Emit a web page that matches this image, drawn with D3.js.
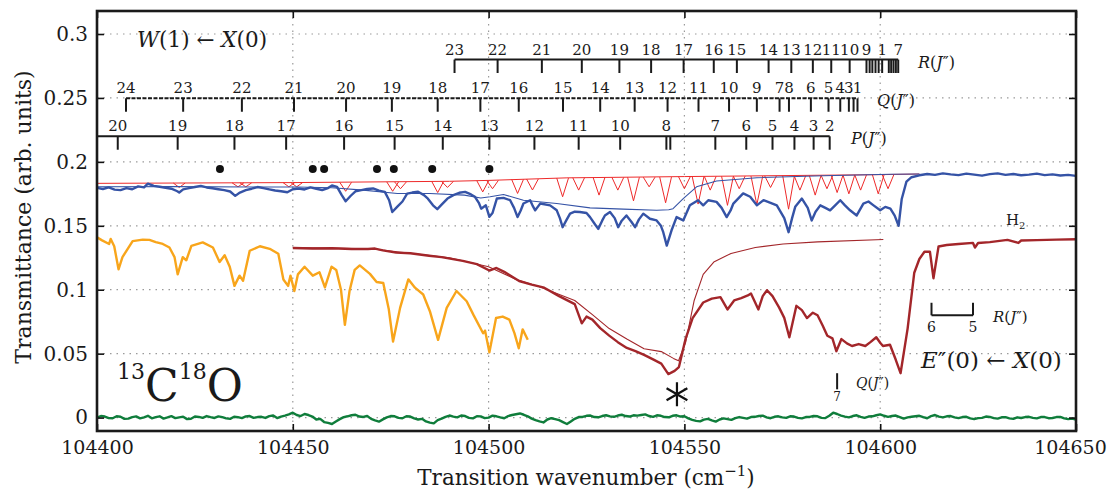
<!DOCTYPE html>
<html>
<head>
<meta charset="utf-8">
<script src="https://cdn.jsdelivr.net/npm/d3@7"></script>
<style>
body { margin: 0; background: #fff; }
svg text { font-family: "DejaVu Serif", "Liberation Serif", serif; fill: #1a1a1a; }
</style>
</head>
<body>
<svg id="chart" width="1112" height="491"></svg>
<script>
// axis ticks
var xTicks = [104400, 104450, 104500, 104550, 104600, 104650];
var yTicks = [0, 0.05, 0.1, 0.15, 0.2, 0.25, 0.3];

// W(1) <- X(0) measured spectrum (blue) and its fit
var blueExp = [[104400,0.1797],[104401.5,0.1788],[104403,0.1800],[104404.5,0.1783],[104406,0.1779],[104407.5,0.1795],[104409,0.1786],[104410.5,0.1808],[104412,0.1800],[104413,0.1830],[104414.5,0.1812],[104416,0.1805],[104417.5,0.1798],[104419,0.1790],[104420.5,0.1770],[104421,0.1760],[104422,0.1785],[104423.5,0.1795],[104425,0.1803],[104426.5,0.1812],[104428,0.1800],[104429.5,0.1794],[104431,0.1786],[104432.5,0.1779],[104434,0.1768],[104435.3,0.1734],[104436.5,0.1760],[104438,0.1779],[104439.5,0.1790],[104441,0.1803],[104442.5,0.1795],[104444,0.1785],[104445.5,0.1776],[104447,0.1770],[104448.6,0.1762],[104450,0.1786],[104451.5,0.1792],[104453,0.1784],[104454.5,0.1800],[104456,0.1790],[104457.5,0.1780],[104459,0.1795],[104460,0.1815],[104461.3,0.1805],[104462.5,0.1740],[104463.5,0.1692],[104464.8,0.1735],[104466,0.1770],[104467.5,0.1779],[104469,0.1788],[104470.5,0.1792],[104472,0.1775],[104473.5,0.1765],[104474.6,0.1700],[104475.4,0.1608],[104476.7,0.1650],[104478,0.1690],[104479.2,0.1752],[104480.5,0.1760],[104482,0.1766],[104483.5,0.1740],[104484.5,0.1712],[104485.8,0.1660],[104486.9,0.1630],[104488,0.1665],[104489.5,0.1713],[104491,0.1740],[104492.5,0.1758],[104494,0.1765],[104495.5,0.1745],[104496.5,0.1727],[104497.5,0.1680],[104498.1,0.1634],[104499.3,0.1660],[104500.2,0.1570],[104501,0.1600],[104502.1,0.1713],[104503.8,0.1718],[104505.5,0.1700],[104506.5,0.1640],[104507.4,0.1568],[104508.2,0.1620],[104508.9,0.1674],[104510.6,0.1700],[104511.2,0.1660],[104511.9,0.1621],[104512.6,0.1650],[104513.2,0.1674],[104515.7,0.1660],[104517.4,0.1621],[104518.2,0.1560],[104518.9,0.1489],[104519.8,0.1540],[104520.8,0.1595],[104522,0.1610],[104523.3,0.1608],[104525,0.1600],[104525.9,0.1568],[104527.2,0.1510],[104528,0.1476],[104529,0.1540],[104529.7,0.1581],[104531,0.1608],[104532.2,0.1560],[104533.1,0.1489],[104534,0.1540],[104535.2,0.1581],[104536.5,0.1530],[104537.4,0.1489],[104538.4,0.1550],[104539.5,0.1595],[104541.2,0.1555],[104542.9,0.1542],[104544,0.1500],[104544.6,0.1450],[104545.5,0.1345],[104546.7,0.1463],[104548,0.1568],[104549.7,0.1542],[104551.4,0.1660],[104553.5,0.1700],[104554.8,0.1660],[104556.1,0.1700],[104558.2,0.1687],[104559.5,0.1640],[104560.8,0.1568],[104561.8,0.1620],[104562.5,0.1674],[104565,0.1753],[104566.8,0.1727],[104568.5,0.1660],[104570.2,0.1700],[104572,0.1680],[104573.6,0.1660],[104575.5,0.1560],[104576.6,0.1450],[104577.5,0.1560],[104578.3,0.1648],[104580,0.1713],[104581.5,0.1640],[104582.5,0.1542],[104583.5,0.1610],[104584.7,0.1660],[104586,0.1640],[104587.2,0.1621],[104588.5,0.1660],[104589.8,0.1700],[104591,0.1660],[104592.3,0.1621],[104594,0.1581],[104595.7,0.1674],[104597,0.1690],[104598.3,0.1660],[104600,0.1621],[104601.3,0.1648],[104602.6,0.1634],[104603.7,0.1580],[104604.7,0.1500],[104605.5,0.1710],[104606.7,0.1845],[104608,0.1880],[104610,0.1895],[104612,0.1905],[104614,0.1898],[104616,0.1910],[104618,0.1902],[104620,0.1896],[104622,0.1908],[104624,0.1900],[104626,0.1892],[104628,0.1904],[104630,0.1910],[104632,0.1898],[104634,0.1905],[104636,0.1895],[104638,0.1900],[104640,0.1908],[104642,0.1896],[104644,0.1902],[104646,0.1893],[104648,0.1898],[104650,0.1890]];
var blueFit = [[104400,0.1805],[104420,0.1806],[104440,0.1804],[104451,0.1803],[104460,0.1797],[104468,0.1779],[104476.7,0.1753],[104485,0.1753],[104493.8,0.1740],[104498,0.1718],[104500.4,0.1727],[104503.8,0.1745],[104508.9,0.1700],[104517.4,0.1674],[104525.9,0.1640],[104534.4,0.1630],[104542.9,0.1621],[104546,0.1625],[104547.1,0.1634],[104549.7,0.1713],[104553.1,0.1805],[104558.2,0.1850],[104568.5,0.1876],[104585.5,0.1892],[104602.6,0.1903],[104610,0.1905]];

// simulated line profiles (red): baseline and dips [centre, top, bottom]
var redBase = [[104400,0.1832],[104450,0.1838],[104490,0.1848],[104500,0.1855],[104520,0.1875],[104550,0.1885],[104600,0.1900],[104610,0.1905]];
var redDips = [[104421,0.1834,0.1800],[104436,0.1836,0.1805],[104438,0.1836,0.1805],[104449,0.1838,0.1805],[104451,0.1838,0.1805],[104463.5,0.1840,0.1770],[104475.5,0.1843,0.1770],[104477.5,0.1843,0.1790],[104487,0.1846,0.1760],[104489.5,0.1847,0.1800],[104498.5,0.1852,0.1765],[104501,0.1855,0.1790],[104507.4,0.1862,0.1753],[104511.2,0.1866,0.1780],[104518.9,0.1873,0.1727],[104523,0.1876,0.1779],[104528.2,0.1877,0.1740],[104533,0.1878,0.1779],[104537,0.1879,0.1695],[104541,0.1880,0.1805],[104545.2,0.1881,0.1680],[104550,0.1884,0.1790],[104553.5,0.1885,0.1670],[104556.6,0.1886,0.1779],[104561,0.1887,0.1660],[104564,0.1888,0.1790],[104568.5,0.1889,0.1665],[104572,0.1890,0.1800],[104576.6,0.1892,0.1630],[104579.5,0.1893,0.1779],[104583.4,0.1894,0.1740],[104586.4,0.1895,0.1790],[104589,0.1896,0.1760],[104592,0.1897,0.1750],[104595,0.1898,0.1779],[104599.5,0.1900,0.1750],[104602,0.1901,0.1790]];

// orange trace
var orange = [[104400,0.1410],[104401.3,0.1386],[104403.1,0.1358],[104403.5,0.1397],[104404.4,0.1340],[104405.5,0.1160],[104406.5,0.1255],[104409.1,0.1380],[104411.7,0.1392],[104413.4,0.1390],[104415,0.1372],[104416.8,0.1358],[104418.5,0.1330],[104419.8,0.1255],[104420.6,0.1120],[104421.9,0.1255],[104422.8,0.1230],[104424.1,0.1343],[104427,0.1370],[104429.6,0.1330],[104431.3,0.1217],[104432.6,0.1270],[104433.9,0.1180],[104435.1,0.1030],[104436.4,0.1110],[104437.3,0.1070],[104439,0.1305],[104441.6,0.1340],[104444.1,0.1320],[104446.3,0.1281],[104447.6,0.1080],[104448.8,0.1030],[104449.4,0.1110],[104450.4,0.0990],[104451.3,0.1120],[104453,0.1180],[104455.1,0.1110],[104456.8,0.1137],[104458.2,0.1018],[104459.9,0.1180],[104461.1,0.1155],[104462.3,0.1000],[104463.3,0.0726],[104464.5,0.0992],[104465.8,0.1155],[104467.1,0.1190],[104469.7,0.1124],[104471.4,0.1060],[104473.1,0.1053],[104474.5,0.0850],[104475.6,0.0595],[104477.4,0.0858],[104479.5,0.1081],[104481.2,0.1016],[104483.3,0.0963],[104485,0.0832],[104487.1,0.0608],[104489.3,0.0858],[104491.8,0.0990],[104494.4,0.0910],[104496.1,0.0805],[104498.6,0.0660],[104499.1,0.0680],[104500.2,0.0510],[104501.9,0.0779],[104503.6,0.0790],[104505.3,0.0766],[104506.6,0.0660],[104507.7,0.0542],[104508.7,0.0690],[104510,0.0608]];

// E''(0) <- X(0) measured spectrum (dark red) and its model
var darkRed = [[104450,0.1326],[104455,0.1322],[104460,0.1324],[104465,0.1318],[104469.2,0.1318],[104471,0.1322],[104473,0.1308],[104476.4,0.1290],[104480,0.1285],[104484.8,0.1266],[104488,0.1255],[104493.4,0.1226],[104497,0.1200],[104500.2,0.1150],[104502,0.1170],[104504,0.1140],[104507.8,0.1068],[104511,0.1040],[104514.2,0.1016],[104518,0.0950],[104522,0.0887],[104523.8,0.0737],[104525,0.0790],[104526.5,0.0766],[104528.5,0.0700],[104530.8,0.0641],[104533,0.0590],[104535.3,0.0545],[104537.5,0.0520],[104539.7,0.0490],[104542,0.0455],[104544.1,0.0422],[104545.9,0.0340],[104547.5,0.0365],[104548.6,0.0395],[104550.3,0.0616],[104552.1,0.0778],[104554.8,0.0900],[104557,0.0930],[104559.2,0.0942],[104561,0.0846],[104562.7,0.0916],[104564.5,0.0935],[104566.2,0.0955],[104567,0.0970],[104568.9,0.0846],[104570,0.0950],[104571.1,0.0996],[104572.5,0.0950],[104574.2,0.0860],[104575.5,0.0780],[104576.8,0.0628],[104578.6,0.0874],[104580,0.0840],[104581.3,0.0778],[104582.8,0.0820],[104584,0.0800],[104585.3,0.0720],[104586.5,0.0640],[104587.8,0.0620],[104588.8,0.0519],[104590.1,0.0614],[104591.5,0.0580],[104592.8,0.0560],[104594.5,0.0575],[104596.2,0.0560],[104597.5,0.0590],[104599,0.0628],[104600,0.0585],[104600.7,0.0560],[104602.5,0.0570],[104604,0.0450],[104605.2,0.0347],[104607,0.0696],[104608.7,0.1133],[104610,0.1240],[104611.3,0.1297],[104612.7,0.1297],[104613.6,0.1090],[104614.9,0.1338],[104617,0.1350],[104620,0.1358],[104623.7,0.1366],[104624.2,0.1330],[104625,0.1365],[104628,0.1372],[104632.5,0.1390],[104635.3,0.1366],[104636,0.1385],[104640,0.1388],[104645,0.1392],[104650,0.1395]];
var darkRedFit = [[104450,0.1330],[104470,0.1320],[104490,0.1250],[104500,0.1180],[104507,0.1080],[104513,0.1024],[104522,0.0916],[104526.5,0.0805],[104530.8,0.0696],[104535.3,0.0614],[104539.7,0.0538],[104544.1,0.0516],[104547.2,0.0463],[104548.5,0.0444],[104550.3,0.0587],[104552.5,0.0916],[104554.8,0.1120],[104557.5,0.1216],[104561.9,0.1284],[104568.1,0.1330],[104575.2,0.1358],[104584,0.1374],[104600.8,0.1393]];

// zero line / background (green)
var green = [[104400,0.0000],[104401,0.0012],[104402,0.0008],[104403,-0.0004],[104404,-0.0005],[104405,0.0010],[104406,0.0006],[104407,-0.0010],[104408,-0.0008],[104409,0.0004],[104410,0.0009],[104411,-0.0006],[104412,0.0002],[104413,0.0014],[104414,-0.0006],[104415,0.0003],[104416,0.0010],[104417,-0.0008],[104418,0.0001],[104419,0.0011],[104420,-0.0004],[104421,0.0002],[104422,0.0007],[104423,-0.0012],[104424,-0.0009],[104425,0.0008],[104426,0.0005],[104427,-0.0002],[104428,0.0012],[104429,0.0004],[104430,-0.0003],[104431,0.0009],[104432,0.0004],[104433,-0.0006],[104434,-0.0010],[104435,0.0006],[104436,0.0003],[104437,-0.0004],[104438,0.0009],[104439,0.0012],[104440,-0.0002],[104441,0.0004],[104442,0.0006],[104443,-0.0003],[104444,0.0011],[104445,0.0016],[104446,-0.0004],[104447,0.0008],[104448,0.0015],[104449,0.0025],[104450,0.0038],[104451,0.0020],[104452,0.0012],[104453,0.0028],[104454,0.0020],[104455,0.0008],[104456,-0.0015],[104457,-0.0010],[104458,-0.0035],[104459,-0.0042],[104460,-0.0050],[104461,-0.0030],[104462,-0.0012],[104463,0.0004],[104464,0.0010],[104465,0.0018],[104466,0.0022],[104467,0.0008],[104468,0.0005],[104469,0.0012],[104470,-0.0010],[104471,-0.0022],[104472,-0.0032],[104473,-0.0014],[104474,0.0002],[104475,0.0012],[104476,0.0010],[104477,-0.0002],[104478,-0.0005],[104479,0.0010],[104480,0.0008],[104481,-0.0006],[104482,-0.0015],[104483,-0.0010],[104484,-0.0030],[104485,-0.0040],[104486,-0.0045],[104487,-0.0020],[104488,-0.0008],[104489,0.0006],[104490,0.0016],[104491,0.0008],[104492,0.0002],[104493,0.0016],[104494,0.0012],[104495,-0.0002],[104496,-0.0006],[104497,0.0010],[104498,0.0009],[104499,-0.0004],[104500,0.0000],[104501,0.0015],[104502,0.0010],[104503,0.0002],[104504,-0.0005],[104505,0.0012],[104506,0.0020],[104507,0.0026],[104508,0.0032],[104509,0.0022],[104510,0.0010],[104511,-0.0008],[104512,-0.0020],[104513,-0.0030],[104514,-0.0038],[104515,-0.0015],[104516,-0.0005],[104517,-0.0012],[104518,-0.0020],[104519,-0.0035],[104520,-0.0050],[104521,-0.0030],[104522,-0.0010],[104523,0.0004],[104524,0.0005],[104525,0.0014],[104526,0.0016],[104527,0.0004],[104528,0.0002],[104529,0.0012],[104530,0.0018],[104531,0.0009],[104532,0.0006],[104533,0.0016],[104534,0.0022],[104535,0.0012],[104536,0.0008],[104537,0.0018],[104538,0.0015],[104539,0.0020],[104540,0.0025],[104541,0.0012],[104542,0.0006],[104543,0.0018],[104544,0.0014],[104545,0.0004],[104546,0.0002],[104547,0.0014],[104548,0.0018],[104549,0.0008],[104550,0.0010],[104551,-0.0006],[104552,-0.0018],[104553,-0.0026],[104554,-0.0030],[104555,-0.0016],[104556,-0.0010],[104557,-0.0022],[104558,-0.0032],[104559,-0.0015],[104560,-0.0006],[104561,-0.0012],[104562,-0.0018],[104563,-0.0004],[104564,0.0004],[104565,-0.0002],[104566,-0.0008],[104567,0.0004],[104568,0.0006],[104569,0.0012],[104570,0.0015],[104571,0.0002],[104572,-0.0005],[104573,0.0006],[104574,0.0010],[104575,0.0002],[104576,-0.0002],[104577,0.0010],[104578,0.0008],[104579,-0.0002],[104580,-0.0006],[104581,0.0004],[104582,0.0005],[104583,0.0012],[104584,0.0010],[104585,-0.0002],[104586,-0.0004],[104587,0.0014],[104588,0.0038],[104589,0.0028],[104590,0.0015],[104591,0.0008],[104592,0.0002],[104593,0.0012],[104594,0.0018],[104595,0.0006],[104596,-0.0002],[104597,0.0008],[104598,0.0010],[104599,0.0018],[104600,0.0025],[104601,0.0014],[104602,0.0006],[104603,0.0012],[104604,0.0016],[104605,0.0004],[104606,-0.0008],[104607,0.0002],[104608,0.0006],[104609,0.0010],[104610,0.0014],[104611,0.0003],[104612,-0.0005],[104613,0.0012],[104614,0.0020],[104615,0.0008],[104616,0.0002],[104617,0.0010],[104618,0.0012],[104619,0.0002],[104620,-0.0004],[104621,0.0004],[104622,0.0006],[104623,-0.0006],[104624,-0.0012],[104625,-0.0004],[104626,-0.0002],[104627,0.0008],[104628,0.0005],[104629,-0.0004],[104630,-0.0008],[104631,0.0002],[104632,0.0003],[104633,-0.0006],[104634,-0.0010],[104635,0.0002],[104636,-0.0003],[104637,0.0004],[104638,0.0006],[104639,-0.0002],[104640,-0.0006],[104641,0.0004],[104642,0.0004],[104643,-0.0005],[104644,-0.0003],[104645,0.0004],[104646,0.0005],[104647,-0.0006],[104648,-0.0012],[104649,-0.0008],[104650,-0.0015]];

// line assignments W(1) <- X(0)
var rWn = [104491.3,104502.3,104513.6,104523.8,104533.4,104541.5,104549.8,104557.5,104563.4,104571.5,104577.3,104582.8,104587.5,104592.2,104596.5,104597.3,104598.0,104598.8,104599.6,104600.5,104602.2,104602.8,104603.4,104604.0,104604.6];
var rJ = ["23","22","21","20","19","18","17","16","15","14","13","12","11","10","9","","","","","1","","","","","7"];
var qWn = [104407.4,104422,104437,104450.3,104463.6,104475.3,104487,104497.9,104507.7,104519,104528.5,104537.3,104545.7,104553.6,104561.4,104568.5,104574.3,104576.7,104582.3,104586.8,104589.8,104592,104593.2,104594.2];
var qJ = ["24","23","22","21","20","19","18","17","16","15","14","13","12","11","10","9","7","8","6","5","4","3","","1"];
var pWn = [104405.3,104420.6,104435.1,104448.3,104463.1,104476,104488.3,104500.2,104511.7,104523,104533.6,104545.4,104546.4,104557.9,104565.8,104572.5,104578.1,104583,104587.1];
var pJ = ["20","19","18","17","16","15","14","13","12","11","10","8","","7","6","5","4","3","2"];
var dotWn = [104431.4,104455.1,104458,104471.5,104475.8,104485.6,104500.2];

// line assignments E''(0) <- X(0)
var eRWn = [104613.1, 104623.7];
var eRJ = ["6", "5"];
var eQWn = [104589];
var eQJ = ["7"];
var starWn = 104548.1;

var serif = "'DejaVu Serif','Liberation Serif',serif";
var svg = d3.select("#chart").attr("font-family", serif);
var x = d3.scaleLinear().domain([104400, 104650]).range([97, 1076]);
var y = d3.scaleLinear().domain([-0.0105, 0.318]).range([431, 11]);
var x0 = x.range()[0], x1 = x.range()[1], y0 = y.range()[0], y1 = y.range()[1];

svg.append("clipPath").attr("id", "clip")
  .append("rect").attr("x", x0).attr("y", y1).attr("width", x1 - x0).attr("height", y0 - y1);

// dotted grid
var grid = svg.append("g").attr("stroke", "#9a9a9a").attr("stroke-width", 1.2).attr("stroke-dasharray", "1.5,5");
grid.selectAll(".gx").data(xTicks.slice(1, -1)).enter().append("line")
  .attr("x1", d => x(d)).attr("x2", d => x(d)).attr("y1", y1).attr("y2", y0);
grid.selectAll(".gy").data(yTicks).enter().append("line")
  .attr("x1", x0).attr("x2", x1).attr("y1", d => y(d)).attr("y2", d => y(d));

var plot = svg.append("g").attr("clip-path", "url(#clip)");
var line = d3.line().x(d => x(d[0])).y(d => y(d[1]));

function trace(data, color, width) {
  plot.append("path").datum(data)
    .attr("d", line)
    .attr("fill", "none")
    .attr("stroke", color)
    .attr("stroke-width", width)
    .attr("stroke-linejoin", "round");
}

trace(green, "#0f7d3b", 2.4);
trace(orange, "#f8a51b", 2.4);
trace(darkRedFit, "#a3262a", 1.1);
trace(darkRed, "#a3262a", 2.4);

// red simulated profiles
trace(redBase, "#ee2a2a", 1);
plot.selectAll(".dip").data(redDips).enter().append("path")
  .attr("d", d => line([[d[0] - 1.5, d[1]], [d[0], d[2]], [d[0] + 1.5, d[1]]]))
  .attr("fill", "none").attr("stroke", "#ee2a2a").attr("stroke-width", 1);

trace(blueExp, "#3553a6", 2.4);
trace(blueFit, "#3553a6", 1.1);

// assignment ladders
var tickLen = 0.0105;
function ladder(wn, labels, level, start, end, dashed) {
  var g = svg.append("g").attr("stroke", "#1a1a1a").attr("stroke-width", 2);
  g.append("line")
    .attr("x1", x(start)).attr("x2", x(end))
    .attr("y1", y(level)).attr("y2", y(level))
    .attr("stroke-dasharray", dashed ? "4,1.5" : null);
  g.selectAll(".t").data(wn).enter().append("line")
    .attr("x1", d => x(d)).attr("x2", d => x(d))
    .attr("y1", y(level)).attr("y2", y(level - tickLen));
  svg.append("g").selectAll("text").data(wn).enter().append("text")
    .attr("x", d => x(d)).attr("y", y(level) - 5)
    .attr("text-anchor", "middle").attr("font-size", 15)
    .text((d, i) => labels[i]);
}
ladder(rWn, rJ, 0.280, rWn[0], rWn[rWn.length - 1], false);
ladder(qWn, qJ, 0.2497, qWn[0], qWn[qWn.length - 1], true);
ladder(pWn, pJ, 0.220, 104400, pWn[pWn.length - 1], false);

function branchLabel(letter, px, py, size) {
  var t = svg.append("text").attr("x", px).attr("y", py).attr("font-size", size);
  t.append("tspan").attr("font-style", "italic").text(letter);
  t.append("tspan").text("(");
  t.append("tspan").attr("font-style", "italic").text("J");
  t.append("tspan").text("\u2033)");
}
branchLabel("R", 918, 68, 16);
branchLabel("Q", 877, 106, 16);
branchLabel("P", 851, 144, 16);

svg.append("g").selectAll("circle").data(dotWn).enter().append("circle")
  .attr("cx", d => x(d)).attr("cy", y(0.1944)).attr("r", 4).attr("fill", "#111");

// E''(0) ladders
var eg = svg.append("g").attr("stroke", "#1a1a1a").attr("stroke-width", 2);
eg.append("line").attr("x1", x(eRWn[0])).attr("x2", x(eRWn[1])).attr("y1", y(0.080)).attr("y2", y(0.080));
eg.selectAll(".t").data(eRWn).enter().append("line")
  .attr("x1", d => x(d)).attr("x2", d => x(d)).attr("y1", y(0.080)).attr("y2", y(0.0898));
svg.append("g").selectAll("text").data(eRWn).enter().append("text")
  .attr("x", d => x(d)).attr("y", y(0.080) + 17).attr("text-anchor", "middle").attr("font-size", 14)
  .text((d, i) => eRJ[i]);
branchLabel("R", 993, 322, 15);

eg.selectAll(".q").data(eQWn).enter().append("line")
  .attr("x1", d => x(d)).attr("x2", d => x(d)).attr("y1", y(0.0347)).attr("y2", y(0.0221));
svg.append("g").selectAll("text").data(eQWn).enter().append("text")
  .attr("x", d => x(d)).attr("y", 401).attr("text-anchor", "middle").attr("font-size", 12)
  .text((d, i) => eQJ[i]);
branchLabel("Q", 856, 388, 14);

// band labels
var w1 = svg.append("text").attr("x", 137).attr("y", 47).attr("font-size", 21.5);
w1.append("tspan").attr("font-style", "italic").text("W");
w1.append("tspan").text("(1) \u2190 ");
w1.append("tspan").attr("font-style", "italic").text("X");
w1.append("tspan").text("(0)");

var e0 = svg.append("text").attr("x", 921).attr("y", 368).attr("font-size", 23);
e0.append("tspan").attr("font-style", "italic").text("E");
e0.append("tspan").text("\u2033(0) \u2190 ");
e0.append("tspan").attr("font-style", "italic").text("X");
e0.append("tspan").text("(0)");

var h2 = svg.append("text").attr("x", 1006).attr("y", 225).attr("font-size", 15);
h2.append("tspan").text("H");
h2.append("tspan").attr("font-size", 10).attr("dy", 4).text("2");

var iso = svg.append("text").attr("x", 117).attr("y", 401).attr("font-size", 44);
iso.append("tspan").attr("font-size", 22).attr("dy", -22).text("13");
iso.append("tspan").attr("dy", 22).text("C");
iso.append("tspan").attr("font-size", 22).attr("dy", -22).text("18");
iso.append("tspan").attr("dy", 22).text("O");

svg.append("path")
  .attr("d", d3.symbol(d3.symbolAsterisk, 407)())
  .attr("transform", "translate(" + x(starWn) + "," + y(0.0182) + ")")
  .attr("fill", "none").attr("stroke", "#111").attr("stroke-width", 2.2);

// axes with inward ticks
function styleAxis(g) {
  g.attr("font-family", serif);
  g.select(".domain").remove();
  g.selectAll(".tick line").attr("stroke", "#111").attr("stroke-width", 1.6);
  g.selectAll("text").attr("fill", "#1a1a1a");
}
var xAxisG = svg.append("g").attr("transform", "translate(0," + y0 + ")")
  .call(d3.axisBottom(x).tickValues(xTicks).tickFormat(d3.format("d")).tickSize(-7).tickPadding(10))
  .call(styleAxis).attr("font-size", 19);
xAxisG.selectAll(".tick text").filter(d => d === xTicks[xTicks.length - 1]).attr("dx", -6);
svg.append("g").attr("transform", "translate(0," + y1 + ")")
  .call(d3.axisTop(x).tickValues(xTicks).tickFormat("").tickSize(-7)).call(styleAxis);
svg.append("g").attr("transform", "translate(" + x0 + ",0)")
  .call(d3.axisLeft(y).tickValues(yTicks).tickFormat(d => d === 0 ? "0" : String(+d.toFixed(2))).tickSize(-7).tickPadding(9))
  .call(styleAxis).attr("font-size", 20);
svg.append("g").attr("transform", "translate(" + x1 + ",0)")
  .call(d3.axisRight(y).tickValues(yTicks).tickFormat("").tickSize(-7)).call(styleAxis);

svg.append("rect").attr("x", x0).attr("y", y1).attr("width", x1 - x0).attr("height", y0 - y1)
  .attr("fill", "none").attr("stroke", "#1a1a1a").attr("stroke-width", 2.6);

// axis titles
var xt = svg.append("text").attr("x", 586).attr("y", 485).attr("text-anchor", "middle").attr("font-size", 21.5);
xt.append("tspan").text("Transition wavenumber (cm");
xt.append("tspan").attr("font-size", 15).attr("dy", -9).text("\u22121");
xt.append("tspan").attr("dy", 9).text(")");
svg.append("text").attr("transform", "translate(31,217) rotate(-90)")
  .attr("text-anchor", "middle").attr("font-size", 22).text("Transmittance (arb. units)");
</script>
</body>
</html>
